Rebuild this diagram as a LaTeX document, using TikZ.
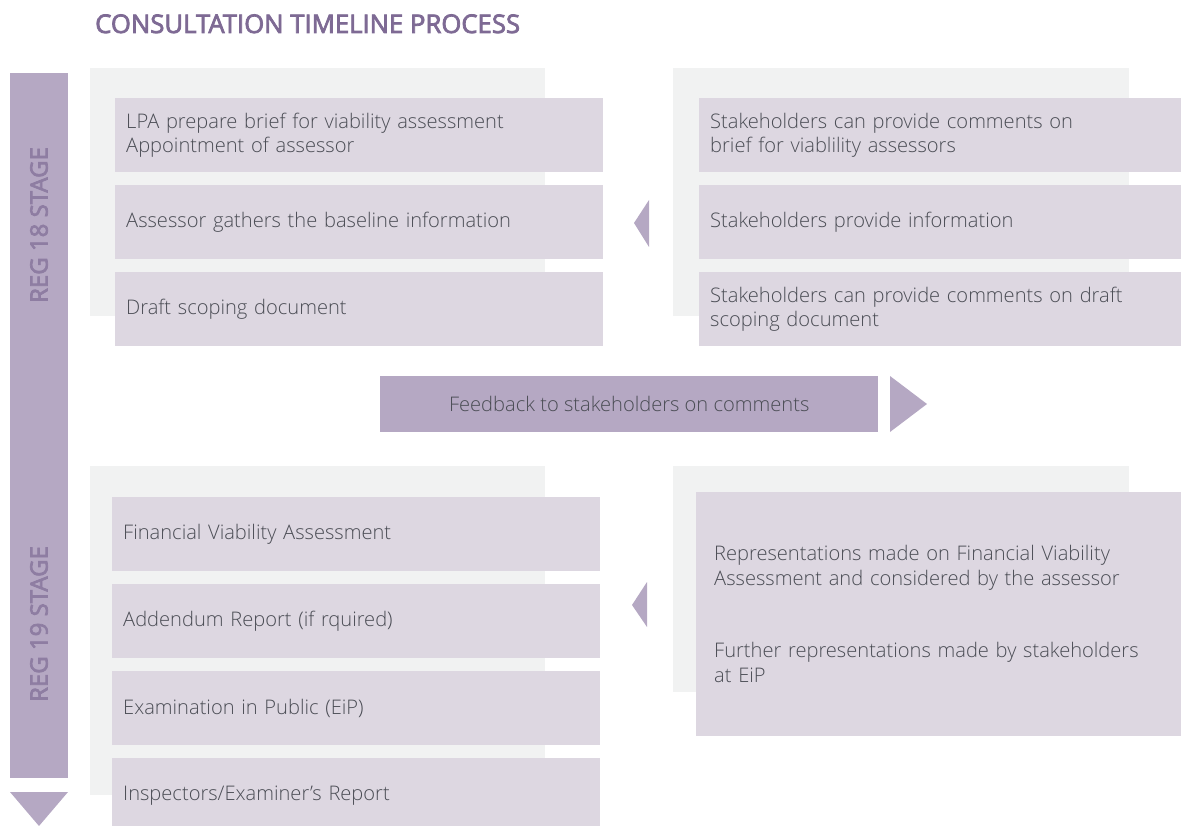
\documentclass[tikz,border=0pt]{standalone}
\usepackage{fontspec}
\setmainfont{Open Sans Light}
\newfontfamily\semibold{Open Sans}[FakeBold=3]
\definecolor{barpurple}{HTML}{B5A8C3}
\definecolor{boxlilac}{HTML}{DDD7E1}
\definecolor{panelgrey}{HTML}{F1F2F2}
\definecolor{titlepurple}{HTML}{7E6A94}
\definecolor{stagetext}{HTML}{8E7DA2}
\definecolor{bodytext}{HTML}{4B4D55}
\tikzset{
  panel/.style={fill=panelgrey},
  stepbox/.style={fill=boxlilac,anchor=north west,minimum height=74pt,inner xsep=11pt,
    align=left,text=bodytext,font=\fontsize{20.1}{24.5}\selectfont},
  leftbox/.style={stepbox,text width=466pt},
  rightbox/.style={stepbox,text width=460pt},
  stagelabel/.style={rotate=90,text=stagetext,font=\fontsize{24}{28}\selectfont\semibold},
  pointer/.style={fill=barpurple}
}
\begin{document}
\begin{tikzpicture}[x=1pt,y=-1pt]
\useasboundingbox (0,0) rectangle (1181,826);
\node[anchor=base west,text=titlepurple,font=\fontsize{25.7}{30}\selectfont\semibold,inner sep=0] (title) at (95,33) {CONSULTATION TIMELINE PROCESS};
% timeline bar
\fill[barpurple] (10,73) rectangle (68,778);
\fill[pointer] (10,792)--(68,792)--(39,826)--cycle;
\node[stagelabel] (reg18) at (39,225) {REG 18 STAGE};
\node[stagelabel] (reg19) at (39,624) {REG 19 STAGE};
% grey panels
\fill[panel] (90,68) rectangle (545,316);
\fill[panel] (673,68) rectangle (1129,316);
\fill[panel] (90,466) rectangle (545,795);
\fill[panel] (673,466) rectangle (1129,692);
% reg 18
\node[leftbox] (brief) at (115,98) {LPA prepare brief for viability assessment\\Appointment of assessor};
\node[leftbox] (baseline) at (115,185) {Assessor gathers the baseline information};
\node[leftbox] (draft) at (115,272) {Draft scoping document};
\node[rightbox] (comm1) at (699,98) {Stakeholders can provide comments on\\brief for viablility assessors};
\node[rightbox] (info) at (699,185) {Stakeholders provide information};
\node[rightbox] (comm2) at (699,272) {Stakeholders can provide comments on draft\\scoping document};
\fill[pointer] (649,200)--(649,247)--(634,223)--cycle;
% feedback
\node[fill=barpurple,minimum width=498pt,minimum height=56pt,anchor=north west,text=bodytext,font=\fontsize{20.1}{24.5}\selectfont] (feedback) at (380,376) {Feedback to stakeholders on comments};
\fill[pointer] (890,376)--(927,404)--(890,432)--cycle;
% reg 19
\node[leftbox] (fva) at (112,497) {Financial Viability Assessment};
\node[leftbox] (addendum) at (112,584) {Addendum Report (if rquired)};
\node[leftbox] (eip) at (112,671) {Examination in Public (EiP)};
\node[leftbox] (report) at (112,758) {Inspectors/Examiner’s Report};
\node[rightbox,minimum height=244pt,inner xsep=18pt,text width=449pt] (reps) at (696,492) {Representations made on Financial Viability\\Assessment and considered by the assessor\\[48pt]Further representations made by stakeholders\\at EiP};
\fill[pointer] (647,582)--(647,627)--(632,605)--cycle;
\end{tikzpicture}
\end{document}
